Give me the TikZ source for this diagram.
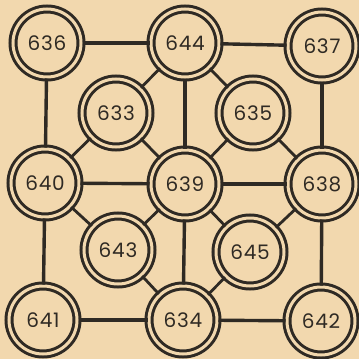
\documentclass[tikz,border=0pt]{standalone}
\usepackage{fontspec}
\setmainfont{Poppins}[LetterSpace=4]
\definecolor{paper}{HTML}{F2D8AE}
\definecolor{ink}{HTML}{2F2A24}
\begin{document}
\begin{tikzpicture}[x=1pt,y=-1pt,
  num/.style={circle,draw=ink,line width=3pt,minimum size=68pt,inner sep=0pt,
    double=paper,double distance=3pt,text=ink,font=\fontsize{20}{20}\selectfont},
  edge/.style={draw=ink,line width=3.4pt},
  diag/.style={draw=ink,line width=2.8pt}]
\fill[paper] (0,0) rectangle (359,359);
\useasboundingbox (0,0) rectangle (359,359);
\node[num] (n636) at (47,43) {636};
\node[num] (n644) at (185,43) {644};
\node[num] (n637) at (322,46) {637};
\node[num] (n633) at (116,113) {633};
\node[num] (n635) at (253,113) {635};
\node[num] (n640) at (45,183) {640};
\node[num] (n639) at (185,184) {639};
\node[num] (n638) at (322,184) {638};
\node[num] (n643) at (118,250) {643};
\node[num] (n645) at (250,252) {645};
\node[num] (n641) at (43,320) {641};
\node[num] (n634) at (183,320) {634};
\node[num] (n642) at (321,321) {642};
\path[edge] (n636) -- (n644);
\path[edge] (n644) -- (n637);
\path[edge] (n640) -- (n639);
\path[edge] (n639) -- (n638);
\path[edge] (n641) -- (n634);
\path[edge] (n634) -- (n642);
\path[edge] (n636) -- (n640);
\path[edge] (n640) -- (n641);
\path[edge] (n644) -- (n639);
\path[edge] (n639) -- (n634);
\path[edge] (n637) -- (n638);
\path[edge] (n638) -- (n642);
\path[diag] (n633) -- (n644);
\path[diag] (n633) -- (n640);
\path[diag] (n633) -- (n639);
\path[diag] (n635) -- (n644);
\path[diag] (n635) -- (n639);
\path[diag] (n635) -- (n638);
\path[diag] (n643) -- (n640);
\path[diag] (n643) -- (n639);
\path[diag] (n643) -- (n634);
\path[diag] (n645) -- (n639);
\path[diag] (n645) -- (n638);
\path[diag] (n645) -- (n634);
\end{tikzpicture}
\end{document}
